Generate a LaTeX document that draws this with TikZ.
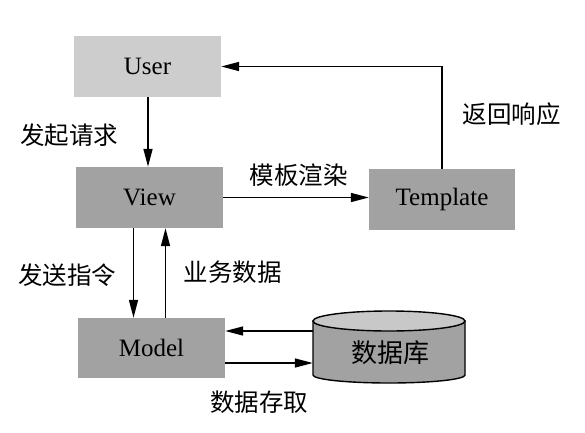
\documentclass[tikz,border=0pt]{standalone}
\usepackage{fontspec}
\setmainfont{Liberation Serif}
\newfontfamily\cjk{Noto Sans CJK SC}
\usetikzlibrary{arrows.meta}
\definecolor{lightbox}{HTML}{CDCDCD}
\definecolor{darkbox}{HTML}{A2A2A2}
\definecolor{dbtop}{HTML}{C8C8C8}
\tikzset{
  box/.style={rectangle, inner sep=0pt, minimum width=147pt, minimum height=61pt, font=\fontsize{25}{30}\selectfont},
  lbl/.style={inner sep=0pt, font=\cjk\fontsize{24.5}{30}\selectfont},
  arr/.style={line width=1.6pt, -{Triangle[length=18pt,width=9pt]}},
}
\begin{document}
\begin{tikzpicture}[x=1pt,y=1pt]
\useasboundingbox (0,0) rectangle (585,432);
\fill[white] (0,0) rectangle (585,432);
\node[box, fill=lightbox] (user) at (147.5,365.5) {User};
\node[box, fill=darkbox] (view) at (149.5,234.5) {View};
\node[box, fill=darkbox, minimum width=146pt] (template) at (442,232.5) {Template};
\node[box, fill=darkbox, minimum height=60pt] (model) at (151.5,84) {Model};
% database cylinder
\node[rectangle, inner sep=0pt, minimum width=152pt, minimum height=72pt] (db) at (389,85) {};
\filldraw[fill=darkbox, line width=1.4pt] (313,111) -- (313,57) arc[start angle=180, end angle=360, x radius=76, y radius=8] -- (465,111) -- cycle;
\filldraw[fill=dbtop, line width=1.4pt] (389,111) ellipse[x radius=76, y radius=10];
\node[lbl, font=\cjk\fontsize{26}{30}\selectfont] (dbl) at (390,79) {数据库};
% connectors
\draw[arr] (user.south -| 148,0) -- (148,0 |- view.north);
\draw[arr] ([xshift=-16pt]view.south) -- ([xshift=-16pt]view.south |- model.north);
\draw[arr] ([xshift=14pt]model.north) -- ([xshift=14pt]model.north |- view.south);
\draw[arr] (view.east) -- (view.east -| template.west);
\draw[arr] (template.north) |- (user.east);
\draw[arr] ([yshift=16pt]db.west) -- ([yshift=16pt]db.west -| model.east);
\draw[arr] ([yshift=-15pt]model.east) -- ([yshift=-15pt]model.east -| db.west);
% labels
\node[lbl] (l1) at (69,297) {发起请求};
\node[lbl] (l2) at (298.5,257) {模板渲染};
\node[lbl] (l3) at (511.5,318) {返回响应};
\node[lbl] (l4) at (67,157) {发送指令};
\node[lbl] (l5) at (232.5,160) {业务数据};
\node[lbl] (l6) at (259,30) {数据存取};
\end{tikzpicture}
\end{document}
